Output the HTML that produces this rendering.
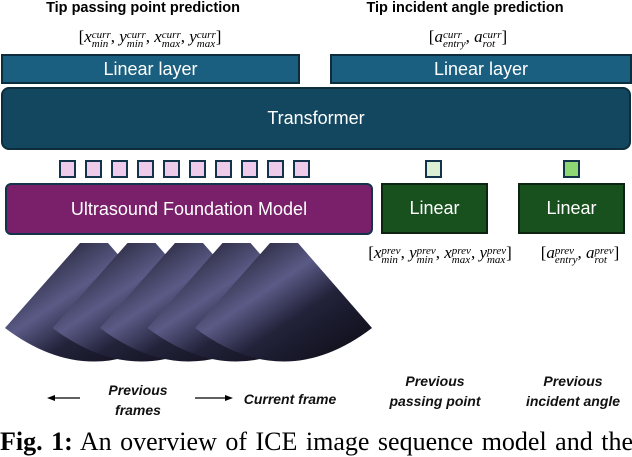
<!DOCTYPE html>
<html><head><style>
body{margin:0;width:632px;height:446px;overflow:hidden;background:#fff;position:relative;font-family:"Liberation Sans",sans-serif}
.a{position:absolute;box-sizing:border-box;display:flex;align-items:center;justify-content:center;color:#fff}
.t{position:absolute;white-space:nowrap;text-align:center}
.sq{position:absolute;top:160px;width:17px;height:18px;border:2px solid #13334a;box-sizing:border-box;background:#eecbeb}
.m{font-family:"Liberation Serif",serif;font-size:17px;line-height:20px}
.v{font-style:italic}
.s{display:inline-block;vertical-align:-5px;font-size:11px;line-height:9px;text-align:left;font-style:italic}
.lb{font-style:italic;font-weight:bold;font-size:14px;color:#111;line-height:20px}
</style></head><body>
<div class="t" style="left:43px;top:0px;width:200px;font-weight:bold;font-size:14.5px">Tip passing point prediction</div>
<div class="t" style="left:365px;top:0px;width:200px;font-weight:bold;font-size:14.5px">Tip incident angle prediction</div>
<div class="t m" style="left:55px;top:27px;width:190px">[<span class="v">x</span><span class="s">curr<br>min</span>, <span class="v">y</span><span class="s">curr<br>min</span>, <span class="v">x</span><span class="s">curr<br>max</span>, <span class="v">y</span><span class="s">curr<br>max</span>]</div>
<div class="t m" style="left:408px;top:27px;width:120px">[<span class="v">a</span><span class="s">curr<br>entry</span>, <span class="v">a</span><span class="s">curr<br>rot</span>]</div>
<div class="a" style="left:1px;top:54px;width:299px;height:30px;background:#1b5f80;border:2px solid #0d2c3c;font-size:18px">Linear layer</div>
<div class="a" style="left:330px;top:54px;width:302px;height:30px;background:#1b5f80;border:2px solid #0d2c3c;font-size:18px">Linear layer</div>
<div class="a" style="left:1px;top:87px;width:630px;height:63px;background:#134760;border:2px solid #0d2c3c;border-radius:8px;font-size:18px">Transformer</div>
<div class="sq" style="left:59px"></div><div class="sq" style="left:85px"></div><div class="sq" style="left:111px"></div><div class="sq" style="left:137px"></div><div class="sq" style="left:163px"></div><div class="sq" style="left:189px"></div><div class="sq" style="left:215px"></div><div class="sq" style="left:241px"></div><div class="sq" style="left:267px"></div><div class="sq" style="left:293px"></div>
<div class="sq" style="left:425px;background:#dcf0d3"></div>
<div class="sq" style="left:563px;background:#8ed773"></div>
<div class="a" style="left:5px;top:183px;width:368px;height:52px;background:#7a206b;border:2px solid #13334a;border-radius:6px;font-size:18px">Ultrasound Foundation Model</div>
<div class="a" style="left:381px;top:183px;width:107px;height:51px;background:#18501e;border:2px solid #0d2410;font-size:18px">Linear</div>
<div class="a" style="left:518px;top:183px;width:107px;height:51px;background:#18501e;border:2px solid #0d2410;font-size:18px">Linear</div>
<svg style="position:absolute;left:0;top:0" width="632" height="446">
<defs><linearGradient id="g" x1="0" y1="0" x2="1" y2="1"><stop offset="0" stop-color="#08080f"/><stop offset="0.4" stop-color="#5a5a86"/><stop offset="0.6" stop-color="#22223a"/><stop offset="1" stop-color="#0a0a12"/></linearGradient></defs>
<g id="f"><path d="M80 243 L108 243 L182 328 Q94 395 5 328 Z" fill="url(#g)"/></g>
<use href="#f" x="47.5"/><use href="#f" x="95"/><use href="#f" x="142.5"/><use href="#f" x="190"/>
<line x1="52" y1="398" x2="80" y2="398" stroke="#000" stroke-width="1.3"/><path d="M47 398 L55 395 L55 401Z"/>
<line x1="195" y1="398" x2="226" y2="398" stroke="#000" stroke-width="1.3"/><path d="M233 398 L225 395 L225 401Z"/>
</svg>
<div class="t m" style="left:350px;top:243px;width:180px">[<span class="v">x</span><span class="s">prev<br>min</span>, <span class="v">y</span><span class="s">prev<br>min</span>, <span class="v">x</span><span class="s">prev<br>max</span>, <span class="v">y</span><span class="s">prev<br>max</span>]</div>
<div class="t m" style="left:528px;top:243px;width:104px">[<span class="v">a</span><span class="s">prev<br>entry</span>, <span class="v">a</span><span class="s">prev<br>rot</span>]</div>
<div class="t lb" style="left:88px;top:380px;width:100px">Previous<br>frames</div>
<div class="t lb" style="left:238px;top:389px;width:104px">Current frame</div>
<div class="t lb" style="left:375px;top:371px;width:120px">Previous<br>passing point</div>
<div class="t lb" style="left:513px;top:371px;width:120px">Previous<br>incident angle</div>
<div class="t" style="left:0;top:427px;font-family:'Liberation Serif',serif;font-size:26px;text-align:left;word-spacing:2px"><b>Fig. 1:</b> An overview of ICE image sequence model and the</div>
</body></html>
